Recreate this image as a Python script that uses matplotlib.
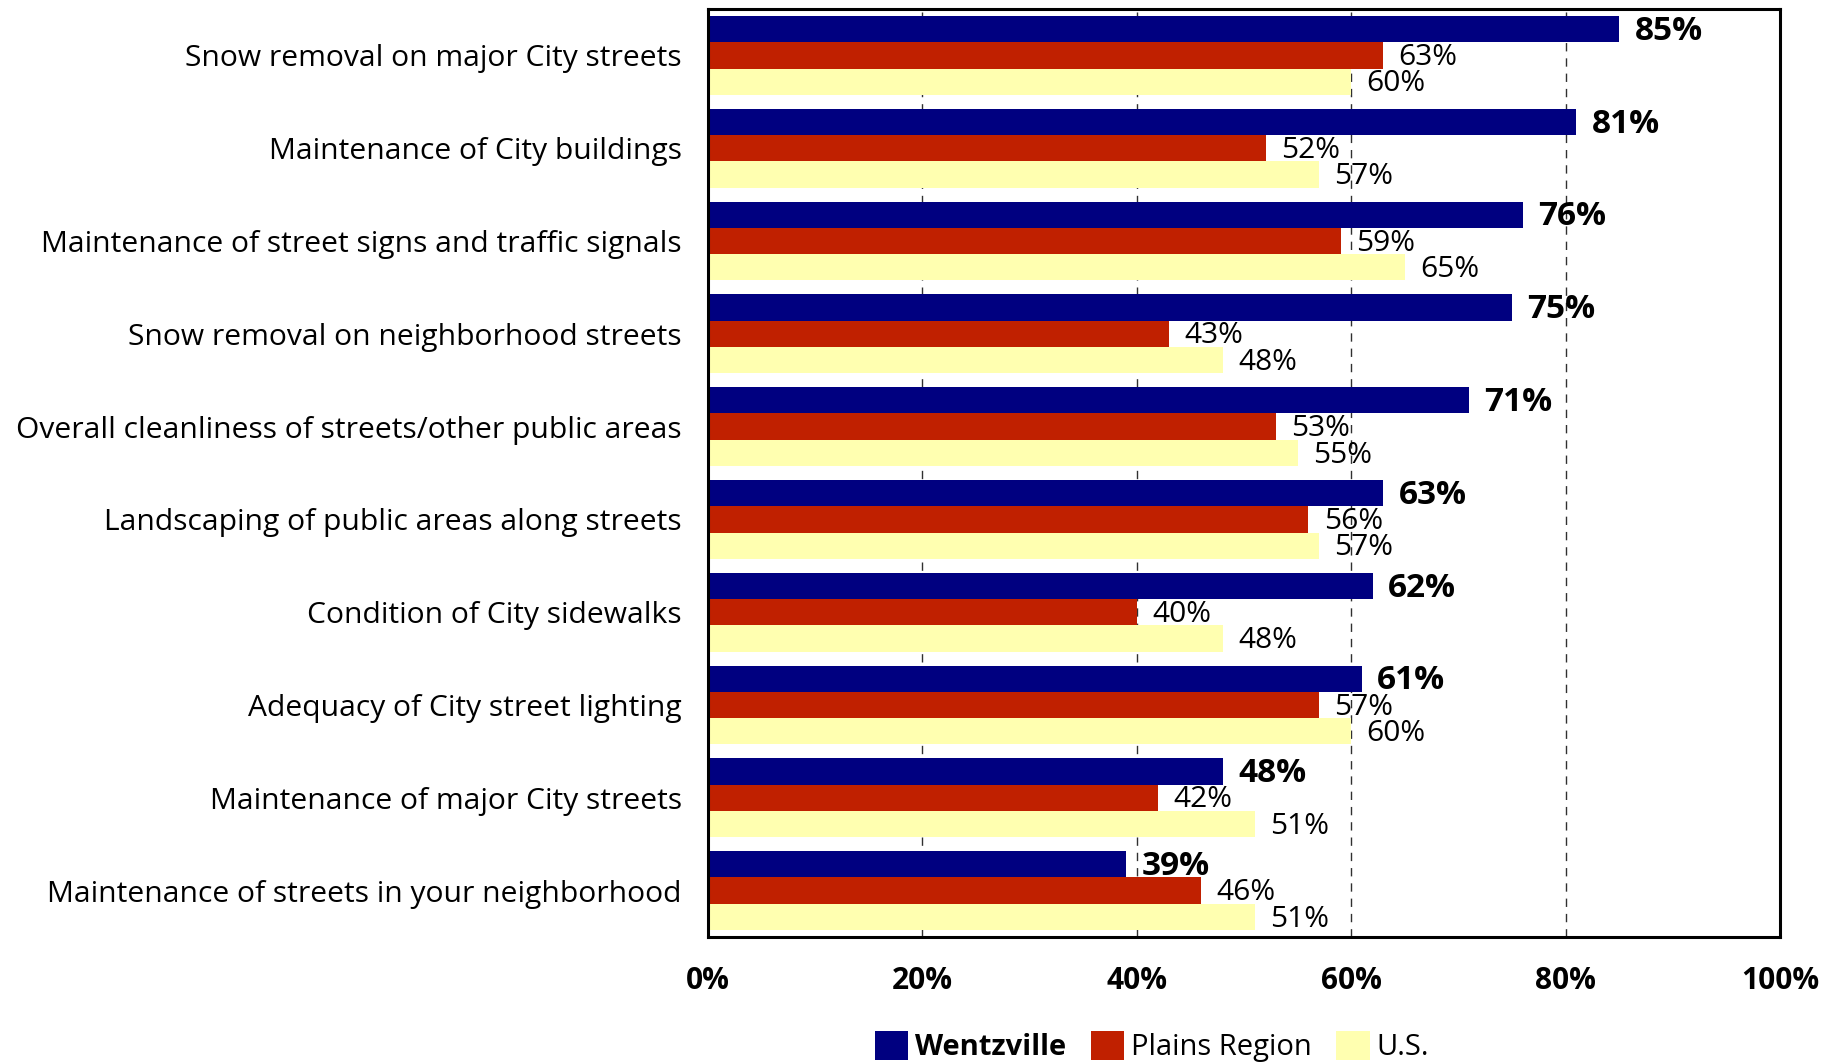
import numpy as np
from matplotlib import pyplot as plt
from matplotlib.ticker import FuncFormatter

categories = [
    'Snow removal on major City streets',
    'Maintenance of City buildings',
    'Maintenance of street signs and traffic signals',
    'Snow removal on neighborhood streets',
    'Overall cleanliness of streets/other public areas',
    'Landscaping of public areas along streets',
    'Condition of City sidewalks',
    'Adequacy of City street lighting',
    'Maintenance of major City streets',
    'Maintenance of streets in your neighborhood',
]
wentzville = [85, 81, 76, 75, 71, 63, 62, 61, 48, 39]
plains = [63, 52, 59, 43, 53, 56, 40, 57, 42, 46]
us = [60, 57, 65, 48, 55, 57, 48, 60, 51, 51]
series_names = ['Wentzville', 'Plains Region', 'U.S.']
x_ticks = [0, 20, 40, 60, 80, 100]

plt.rcParams['font.family'] = ['Open Sans', 'DejaVu Sans']

colors = ['#000080', '#C02000', '#FFFFB0']
fig = plt.figure(figsize=(18.39, 10.63), dpi=100)
ax = fig.add_axes([0.385, 0.1185, 0.583, 0.873])

y = np.arange(len(categories))
h = 0.85 / 3
series = [wentzville, plains, us]
for i, (vals, name, col) in enumerate(zip(series, series_names, colors)):
    pos = y + (i - 1) * h
    ax.barh(pos, vals, height=h, color=col, label=name, zorder=2)
    bold = i == 0
    for p, v in zip(pos, vals):
        ax.annotate(f'{v}%', (v, p), xytext=(11, -1.5), textcoords='offset points',
                    va='center', ha='left',
                    fontsize=24 if bold else 21.5,
                    fontweight='bold' if bold else 'normal', zorder=3)

ax.set_xlim(0, 100)
ax.set_ylim(len(categories) - 0.5, -0.5)
ax.set_xticks(x_ticks)
ax.xaxis.set_major_formatter(FuncFormatter(lambda v, _: f'{v:.0f}%'))
ax.set_yticks(y)
ax.set_yticklabels(categories)
ax.tick_params(axis='x', length=0, pad=21, labelsize=21.5)
ax.tick_params(axis='y', length=0, pad=19, labelsize=21.6)
for lab in ax.get_xticklabels():
    lab.set_fontweight('bold')

ax.grid(axis='x', color='#303030', linestyle=(0, (6, 5)), linewidth=1)
ax.set_axisbelow(True)
for s in ax.spines.values():
    s.set_linewidth(2.2)
    s.set_color('black')

fig.legend(loc='center', bbox_to_anchor=(0.6265, 0.0155), ncol=3, frameon=False,
           fontsize=21, handlelength=1.14, handleheight=1.14, handletextpad=0.25,
           columnspacing=0.83, borderpad=0)
leg = fig.legends[0]
leg.get_texts()[0].set_fontweight('bold')

fig.savefig('out.png', dpi=100)
